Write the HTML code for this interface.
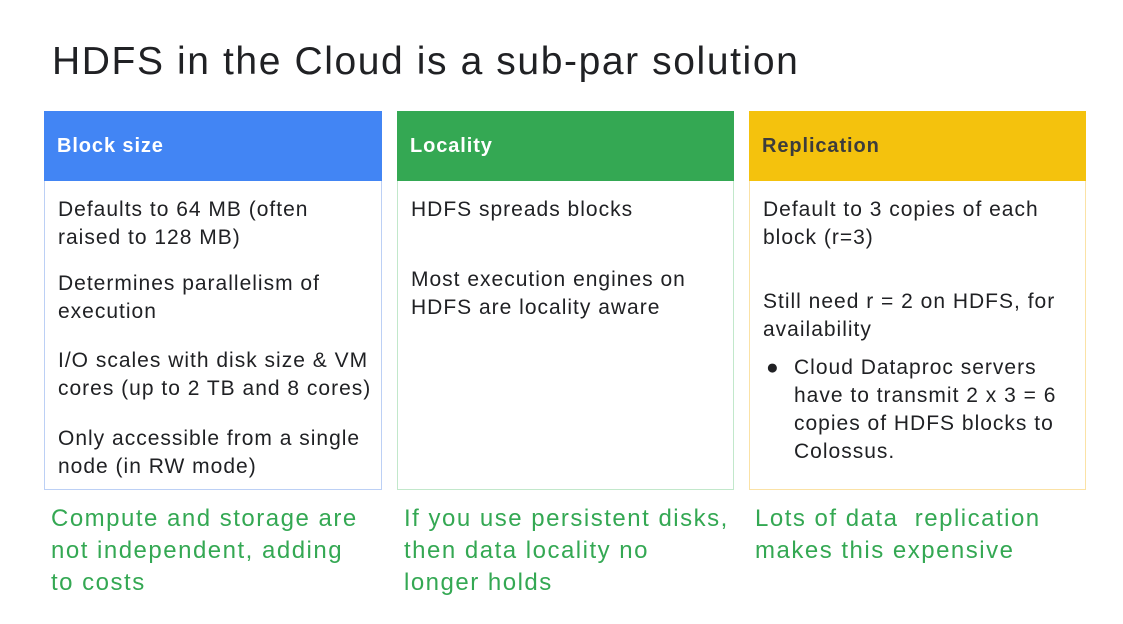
<!DOCTYPE html>
<html><head><style>
body{margin:0;width:1123px;height:624px;background:#fff;font-family:"Liberation Sans",sans-serif;position:relative;overflow:hidden}
.t{position:absolute;left:52px;top:40px;font-size:39px;color:#202124;letter-spacing:1.6px}
.box{position:absolute;top:111px;height:379px;border:1.5px solid;box-sizing:border-box}
.hd{height:70px;font-weight:bold;font-size:20px;letter-spacing:0.9px;line-height:70px;padding-left:13px;margin:-1px -1px 0 -1px}
.p{position:absolute;left:13px;font-size:21px;letter-spacing:1px;line-height:28px;color:#202124;white-space:nowrap}
.f{position:absolute;top:503px;font-size:24px;letter-spacing:1.5px;line-height:32px;color:#34a853;white-space:nowrap}
</style></head><body>
<div class="t">HDFS in the Cloud is a sub-par solution</div>

<div class="box" style="left:44px;width:338px;border-color:#bcd0f5">
<div class="hd" style="background:#4285f4;color:#fff">Block size</div>
<div class="p" style="top:84px">Defaults to 64 MB (often<br>raised to 128 MB)</div>
<div class="p" style="top:158px">Determines parallelism of<br>execution</div>
<div class="p" style="top:235px">I/O scales with disk size &amp; VM<br>cores (up to 2 TB and 8 cores)</div>
<div class="p" style="top:313px">Only accessible from a single<br>node (in RW mode)</div>
</div>

<div class="box" style="left:397px;width:337px;border-color:#c2e8cb">
<div class="hd" style="background:#34a853;color:#fff">Locality</div>
<div class="p" style="top:84px">HDFS spreads blocks</div>
<div class="p" style="top:154px">Most execution engines on<br>HDFS are locality aware</div>
</div>

<div class="box" style="left:749px;width:337px;border-color:#fbe2a6">
<div class="hd" style="background:#f4c20d;color:#3c3c3c">Replication</div>
<div class="p" style="top:84px">Default to 3 copies of each<br>block (r=3)</div>
<div class="p" style="top:176px">Still need r = 2 on HDFS, for<br>availability</div>
<div class="p" style="top:242px;left:16px">●</div>
<div class="p" style="top:242px;left:44px">Cloud Dataproc servers<br>have to transmit 2 x 3 = 6<br>copies of HDFS blocks to<br>Colossus.</div>
</div>

<div class="f" style="left:51px">Compute and storage are<br>not independent, adding<br>to costs</div>
<div class="f" style="left:404px">If you use persistent disks,<br>then data locality no<br>longer holds</div>
<div class="f" style="left:755px">Lots of data&nbsp; replication<br>makes this expensive</div>
</body></html>
